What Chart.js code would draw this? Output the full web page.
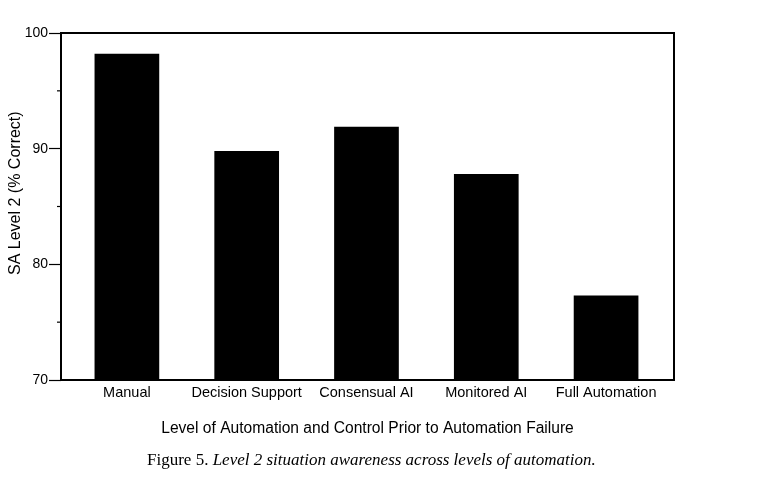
<!DOCTYPE html>
<html>
<head>
<meta charset="utf-8">
<script src="https://cdn.jsdelivr.net/npm/chart.js@4/dist/chart.umd.min.js"></script>
<style>
  html, body { margin: 0; padding: 0; background: #fff; }
  #wrap { position: relative; width: 775px; height: 490px; }
  #caption {
    position: absolute; left: 147px; top: 450px;
    font-family: "Liberation Serif", "DejaVu Serif", serif;
    font-size: 17px; color: #000; white-space: nowrap;
  }
  #caption em { font-style: italic; }
</style>
</head>
<body>
<div id="wrap">
  <canvas id="saChart" width="775" height="490"></canvas>
  <div id="caption">Figure 5. <em>Level 2 situation awareness across levels of automation.</em></div>
</div>
<script>
// === Level 2 SA by level of automation ===
const categories = ['Manual', 'Decision Support', 'Consensual AI', 'Monitored AI', 'Full Automation'];
const saLevel2 = [98.2, 89.8, 91.9, 87.8, 77.3];
const yTicks = [70, 80, 90, 100];
const yMinorTicks = [75, 85, 95];

const FONT = '"Liberation Sans", Arial, Helvetica, sans-serif';

// box round the plot + short minor ticks on the y axis
const frame = {
    id: 'frame',
    afterDraw(chart) {
        const { ctx, chartArea: a } = chart;
        const y = chart.scales.y;
        ctx.save();
        ctx.strokeStyle = '#000';
        ctx.lineWidth = 2;
        ctx.strokeRect(a.left, a.top, a.right - a.left, a.bottom - a.top);
        ctx.lineWidth = 1.2;
        yMinorTicks.forEach(v => {
            const py = y.getPixelForValue(v);
            ctx.beginPath();
            ctx.moveTo(a.left - 4, py);
            ctx.lineTo(a.left, py);
            ctx.stroke();
        });
        ctx.restore();
    }
};

const ctx = document.getElementById('saChart').getContext('2d');
new Chart(ctx, {
    type: 'bar',
    data: {
        datasets: [{
            data: saLevel2.map((v, i) => ({ x: i, y: v })),
            backgroundColor: '#000',
            borderWidth: 0,
            categoryPercentage: 1,
            barPercentage: 0.54
        }]
    },
    options: {
        responsive: false,
        animation: false,
        layout: { padding: { left: 0, top: 33, right: 101, bottom: 50 } },
        plugins: {
            legend: { display: false },
            tooltip: { enabled: false }
        },
        scales: {
            x: {
                type: 'linear',
                offset: false,
                min: -0.55,
                max: 4.567,
                afterBuildTicks: s => { s.ticks = categories.map((c, i) => ({ value: i })); },
                afterFit: s => { s.height = 60; },
                grid: { display: false, drawTicks: false, offset: false },
                border: { display: false },
                ticks: {
                    padding: 4,
                    color: '#000',
                    maxRotation: 0,
                    autoSkip: false,
                    font: { family: FONT, size: 14.5 },
                    callback: v => categories[v] ?? ''
                },
                title: {
                    display: true,
                    text: 'Level of Automation and Control Prior to Automation Failure',
                    color: '#000',
                    font: { family: FONT, size: 15.6 },
                    padding: { top: 0, bottom: 2 }
                }
            },
            y: {
                min: 70,
                max: 100,
                afterBuildTicks: s => { s.ticks = yTicks.map(v => ({ value: v })); },
                afterFit: s => { s.width = 61; },
                grid: {
                    drawOnChartArea: false,
                    drawTicks: true,
                    tickLength: 12,
                    tickWidth: 1.2,
                    color: '#000'
                },
                border: { display: false },
                ticks: {
                    padding: 1,
                    color: '#000',
                    font: { family: FONT, size: 14 }
                },
                title: {
                    display: true,
                    // leading spaces lift the label a little above the axis centre, as in the print
                    text: '      SA Level 2 (% Correct)',
                    color: '#000',
                    font: { family: FONT, size: 16 },
                    padding: { top: 6, bottom: 0 }
                }
            }
        }
    },
    plugins: [frame]
});
</script>
</body>
</html>
